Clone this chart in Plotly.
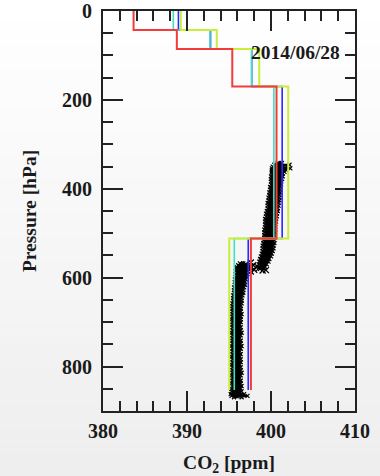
import plotly.graph_objects as go

# ---------------- data ----------------
levels = [0, 42.75, 85.5, 170, 512, 853]  # layer boundaries [hPa]
red_co2 = [383.64, 388.79, 395.39, 400.66, 397.61]
blue_co2 = [388.98, 392.80, 397.70, 401.33, 397.29]
cyan_co2 = [388.37, 392.74, 397.70, 400.34, 395.63]
yellow_co2 = [389.26, 393.54, 398.60, 402.05, 395.03]

# observed profile (upper part), left/right edges of the measured spread
obs_up_p = [342, 346, 350, 354, 358, 362, 366, 372, 378, 384, 390, 396, 402, 408, 414, 420,
            426, 432, 438, 444, 450, 456, 462, 468, 474, 480, 486, 492, 498, 504, 510, 516,
            522, 528, 534, 540, 546, 552, 558, 564, 570, 576, 580]
obs_up_lo = [400.8, 400.4, 400.2, 400.1, 400.1, 400.1, 400.1, 400.0, 400.0, 400.0, 400.0, 399.9,
             399.9, 399.8, 399.8, 399.7, 399.7, 399.6, 399.6, 399.6, 399.5, 399.4, 399.4, 399.3,
             399.3, 399.3, 399.3, 399.2, 399.2, 399.2, 399.2, 399.1, 399.1, 399.0, 399.0, 399.0,
             398.9, 398.8, 398.7, 398.6, 398.6, 398.6, 398.7]
obs_up_hi = [401.3, 402.2, 401.9, 402.3, 401.8, 401.6, 401.4, 401.4, 401.3, 401.2, 401.2, 401.1,
             401.1, 401.1, 401.0, 401.0, 401.0, 400.9, 400.9, 400.8, 400.8, 400.7, 400.7, 400.6,
             400.6, 400.5, 400.5, 400.5, 400.5, 400.4, 400.4, 400.4, 400.4, 400.3, 400.3, 400.2,
             400.1, 400.0, 399.8, 399.7, 399.5, 399.3, 399.1]
# observed profile (lower part)
obs_lo_p = [568, 572, 576, 580, 586, 592, 598, 604, 610, 616, 622, 628, 634, 640, 646, 652, 658,
            664, 670, 676, 682, 688, 694, 700, 706, 712, 718, 724, 730, 736, 742, 748, 754, 760,
            766, 772, 778, 784, 790, 796, 802, 808, 814, 820, 826, 832, 838, 844, 850, 856, 862,
            866, 869]
obs_lo_lo = [396.3, 396.1, 395.9, 395.9, 395.8, 395.8, 395.8, 395.7, 395.7, 395.7, 395.6, 395.6,
             395.6, 395.5, 395.5, 395.5, 395.4, 395.4, 395.4, 395.4, 395.4, 395.4, 395.3, 395.4,
             395.4, 395.4, 395.4, 395.3, 395.4, 395.4, 395.4, 395.4, 395.3, 395.4, 395.4, 395.4,
             395.3, 395.4, 395.4, 395.3, 395.4, 395.4, 395.4, 395.3, 395.4, 395.4, 395.3, 395.4,
             395.3, 395.3, 395.2, 395.3, 395.6]
obs_lo_hi = [396.7, 397.1, 397.3, 397.3, 397.2, 397.2, 397.1, 397.0, 396.9, 396.9, 396.8, 396.7,
             396.7, 396.6, 396.5, 396.5, 396.5, 396.4, 396.4, 396.4, 396.5, 396.4, 396.4, 396.4,
             396.3, 396.4, 396.4, 396.5, 396.4, 396.3, 396.4, 396.4, 396.5, 396.4, 396.3, 396.4,
             396.3, 396.4, 396.4, 396.3, 396.4, 396.4, 396.5, 396.4, 396.3, 396.4, 396.4, 396.5,
             396.4, 396.5, 396.8, 397.2, 396.5]
# scattered points in the transition zone
obs_tr_p = [566, 570, 572, 574, 575, 576, 578, 580, 582, 583, 584, 586]
obs_tr_co2 = [397.6, 397.0, 397.9, 398.3, 396.9, 397.5, 398.6, 396.8, 398.0, 399.4, 399.0, 397.6]

x_ticks = [380, 390, 400, 410]
y_ticks = [0, 200, 400, 600, 800]
date_label = "2014/06/28"

# ---------------- figure ----------------
W, H = 380, 476
ML, MR, MT, MB = 103, 25, 11, 65
PW, PH = W - ML - MR, H - MT - MB

fig = go.Figure()


def step_xy(vals):
    xs, ys = [], []
    for i, v in enumerate(vals):
        xs += [v, v]
        ys += [levels[i], levels[i + 1]]
    return xs, ys


def zigzag(ps, lo, hi):
    xs, ys = [], []
    for p, a, b in zip(ps, lo, hi):
        xs += [a, b]
        ys += [p, p]
    return xs, ys


mk = dict(symbol="x-thin", size=4, line=dict(color="black", width=1.2))
for ps, lo, hi in [(obs_up_p, obs_up_lo, obs_up_hi), (obs_lo_p, obs_lo_lo, obs_lo_hi)]:
    zx, zy = zigzag(ps, lo, hi)
    fig.add_trace(go.Scatter(x=zx, y=zy, mode="lines+markers",
                             line=dict(color="black", width=2.2), marker=mk,
                             showlegend=False, hoverinfo="skip"))
fig.add_trace(go.Scatter(x=obs_tr_co2, y=obs_tr_p, mode="markers",
                         marker=dict(symbol="x-thin", size=6, line=dict(color="black", width=1.3)),
                         showlegend=False, hoverinfo="skip"))

for vals, col, w in [(blue_co2, "#2a2aff", 1.6), (cyan_co2, "#3fe0c4", 1.6),
                     (yellow_co2, "#c8ee3a", 2.0), (red_co2, "#f23c3c", 2.0)]:
    sx, sy = step_xy(vals)
    fig.add_trace(go.Scatter(x=sx, y=sy, mode="lines", line=dict(color=col, width=w),
                             showlegend=False, hoverinfo="skip"))

# background vertical gradient (white -> light gray)
n = 40
x0p, x1p = -ML / PW, 1 + MR / PW
ytop, ybot = 1 + MT / PH, -MB / PH
for i in range(n):
    t = i / (n - 1)
    c = int(round(255 - 17 * t))
    ya = ytop + (ybot - ytop) * i / n
    yb = ytop + (ybot - ytop) * (i + 1) / n
    fig.add_shape(type="rect", xref="paper", yref="paper", x0=x0p, x1=x1p, y0=yb, y1=ya,
                  fillcolor=f"rgb({c},{c},{c})", line=dict(width=0), layer="below")

tick_font = dict(family="Liberation Serif", size=20, color="#1a1a1a", weight="bold")
title_font = dict(family="Liberation Serif", size=19.5, color="#1a1a1a", weight="bold")
axis_common = dict(showgrid=False, zeroline=False, showline=True, linecolor="#222",
                   linewidth=2, mirror="ticks", ticks="inside", ticklen=20, tickwidth=1.6,
                   tickcolor="#222", tickfont=tick_font)

fig.update_xaxes(range=[380, 410], tickmode="array", tickvals=x_ticks,
                 ticktext=[str(v) for v in x_ticks],
                 minor=dict(dtick=2, tick0=380, ticks="inside", ticklen=10, tickwidth=1.6,
                            tickcolor="#222"),
                 ticklabelstandoff=1,
                 title=dict(text="CO<sub>2</sub> [ppm]", font=title_font, standoff=22),
                 **axis_common)
fig.update_yaxes(range=[900, 0], tickmode="array", tickvals=y_ticks,
                 ticktext=[str(v) for v in y_ticks],
                 minor=dict(dtick=50, tick0=0, ticks="inside", ticklen=10, tickwidth=1.6,
                            tickcolor="#222"),
                 ticklabelstandoff=5,
                 title=dict(text="Pressure [hPa]", font=title_font, standoff=20),
                 **axis_common)

fig.add_annotation(text=date_label, x=408.4, y=94, xref="x", yref="y", xanchor="right",
                   yanchor="middle", showarrow=False,
                   font=dict(family="Liberation Serif", size=19.5, color="#1a1a1a", weight="bold"))

fig.update_layout(width=W, height=H, margin=dict(l=ML, r=MR, t=MT, b=MB, autoexpand=False),
                  paper_bgcolor="#f7f7f7", plot_bgcolor="rgba(0,0,0,0)", showlegend=False)

fig.write_html("out.html")
